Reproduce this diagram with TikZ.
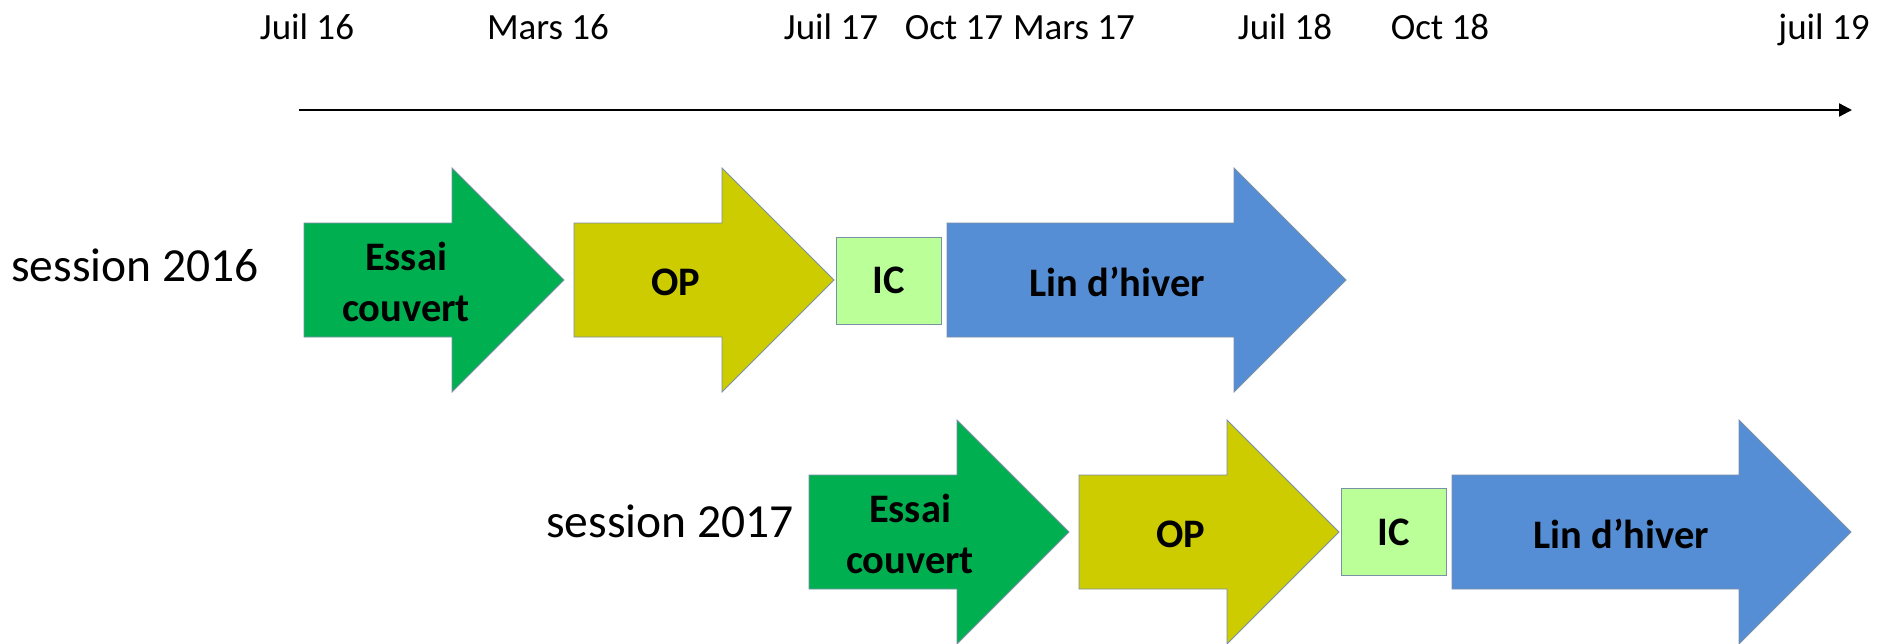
\documentclass[tikz,border=0pt]{standalone}
\usepackage{fontspec}
\setmainfont{Carlito}
\usetikzlibrary{arrows.meta}

\definecolor{essaigreen}{HTML}{00B050}
\definecolor{opyellow}{HTML}{CCCC00}
\definecolor{iclight}{HTML}{BBFF99}
\definecolor{linblue}{HTML}{558ED5}
\definecolor{edgeblue}{HTML}{7A8FA8}

% block arrow: name, fill, left x, head x, centre y, text x, text
\newcommand{\phasearrow}[7]{%
  \filldraw[phase, fill=#2] (#3,#5-57) -- (#4,#5-57) -- (#4,#5-112)
    -- (#4+112,#5) -- (#4,#5+112) -- (#4,#5+57) -- (#3,#5+57) -- cycle;
  \node[phasetext] (#1) at (#6,#5+2) {#7};}

\begin{document}
\begin{tikzpicture}[
    x=1pt, y=-1pt,
    date/.style={anchor=base, inner sep=0pt, font=\fontsize{37}{44}\selectfont},
    session/.style={anchor=base, inner sep=0pt, font=\fontsize{47.5}{56}\selectfont},
    phase/.style={draw=edgeblue, line width=0.8pt},
    phasetext/.style={inner sep=0pt, align=center, font=\bfseries\fontsize{40.5}{51}\selectfont},
    icbox/.style={rectangle, draw=edgeblue, line width=0.8pt, fill=iclight,
        minimum width=105pt, minimum height=87pt, inner sep=0pt,
        font=\bfseries\fontsize{40.5}{51}\selectfont},
    timeaxis/.style={line width=2.2pt, -{Triangle[length=13pt,width=13pt]}}
]
    \useasboundingbox (0,0) rectangle (1886,643);

    % Dates
    \node[date] (jul16) at (307,39) {Juil 16};
    \node[date] (mar16) at (548,39) {Mars 16};
    \node[date] (jul17) at (831,39) {Juil 17};
    \node[date] (oct17) at (954,39) {Oct 17};
    \node[date] (mar17) at (1074,39) {Mars 17};
    \node[date] (jul18) at (1285,39) {Juil 18};
    \node[date] (oct18) at (1440,39) {Oct 18};
    \node[date] (jul19) at (1824,39) {juil 19};

    % Time axis
    \coordinate (tstart) at (299,110);
    \coordinate (tend) at (1852,110);
    \draw[timeaxis] (tstart) -- (tend);

    % Session 2016
    \node[session] (sessA) at (135,281) {session 2016};
    \phasearrow{essaiA}{essaigreen}{304}{452}{280}{406}{Essai\\couvert}
    \phasearrow{opA}{opyellow}{574}{722}{280}{676}{OP}
    \node[icbox] (icA) at (888.5,280.5) {IC};
    \phasearrow{linA}{linblue}{947}{1234}{280}{1117}{Lin d’hiver}

    % Session 2017
    \node[session] (sessB) at (670,537) {session 2017};
    \phasearrow{essaiB}{essaigreen}{809}{957}{532}{910}{Essai\\couvert}
    \phasearrow{opB}{opyellow}{1079}{1227}{532}{1181}{OP}
    \node[icbox] (icB) at (1393.5,532) {IC};
    \phasearrow{linB}{linblue}{1452}{1739}{532}{1621}{Lin d’hiver}
\end{tikzpicture}
\end{document}
